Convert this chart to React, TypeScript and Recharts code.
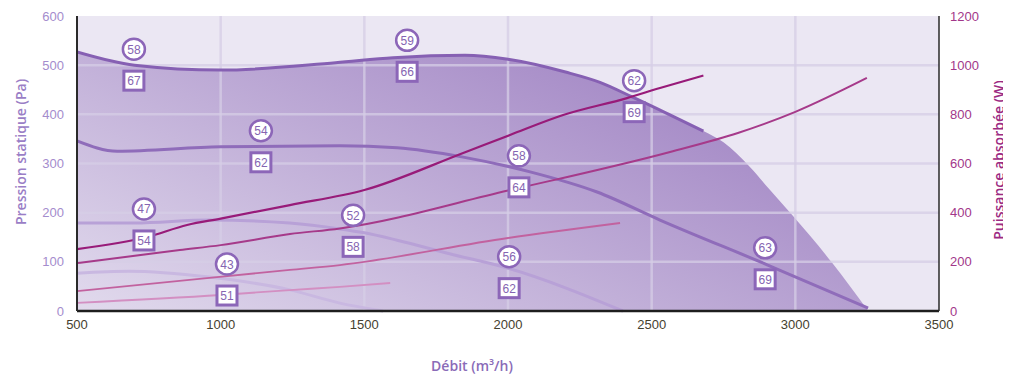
import React from 'react'
import {
  ComposedChart,
  Line,
  Area,
  Scatter,
  XAxis,
  YAxis,
  CartesianGrid,
  ReferenceLine,
} from 'recharts'

// axes
const X_TICKS = [500, 1000, 1500, 2000, 2500, 3000, 3500]
const P_TICKS = [0, 100, 200, 300, 400, 500, 600]
const W_TICKS = [0, 200, 400, 600, 800, 1000, 1200]
const GRID_X = [1000, 1500, 2000, 2500, 3000]
const GRID_P = [100, 200, 300, 400, 500]

// zone de fonctionnement (enveloppe)
const envX = [500, 700, 1000, 1400, 1600, 1850, 2000, 2200, 2320, 2430, 2560, 2680, 2750, 2842, 2912, 2992, 3128, 3250]
const envP = [527, 500, 490, 505, 515, 520, 512, 486, 465, 436, 400, 366, 343, 293, 246, 193, 98, 3]

// pression statique (Pa), vitesses 1 a 4
const p1X = [500, 700, 1000, 1400, 1600, 1850, 2000, 2200, 2320, 2430, 2560, 2680]
const p1Y = [527, 500, 490, 505, 515, 520, 512, 486, 465, 436, 400, 366]
const p2X = [500, 640, 1000, 1415, 1614, 1844, 2077, 2310, 2529, 2902, 3253]
const p2Y = [346, 325, 334, 336, 332, 313, 283, 242, 185, 94, 6]
const p3X = [500, 700, 960, 1240, 1415, 1500, 1614, 1800, 2000, 2400]
const p3Y = [179, 179, 185, 179, 167, 159, 144, 116, 87, 0]
const p4X = [500, 680, 960, 1241, 1415, 1565]
const p4Y = [77, 81, 69, 43, 16, 0]

// puissance absorbee (W)
const w1X = [500, 744, 883, 1000, 1241, 1500, 1844, 2007, 2192, 2414, 2529, 2680]
const w1Y = [252, 301, 350, 376, 431, 492, 643, 716, 797, 866, 907, 958]
const w2X = [500, 858, 1000, 1241, 1415, 2000, 2564, 2800, 3000, 3249]
const w2Y = [195, 248, 268, 313, 336, 490, 647, 724, 810, 948]
const w3X = [500, 987, 1241, 1415, 2000, 2390]
const w3Y = [81, 138, 167, 187, 297, 358]
const w4X = [500, 1000, 1241, 1415, 1590]
const w4Y = [33, 65, 85, 98, 114]

// niveaux sonores: rond et carre
const lblX = [698, 1649, 2439, 1140, 2038, 2895, 733, 1461, 2004, 1022]
const lblY = [500, 518, 436, 334, 283, 96, 175, 162, 78, 63]
const lblRound = [58, 59, 62, 54, 58, 63, 47, 52, 56, 43]
const lblSquare = [67, 66, 69, 62, 64, 69, 54, 58, 62, 51]

const pts = (xs: number[], ys: number[]) => xs.map((x, i) => ({ x, y: ys[i] }))

const labels = lblX.map((x, i) => ({ x, y: lblY[i], round: lblRound[i], square: lblSquare[i] }))

const LABEL_STROKE = '#8c66b8'
const LABEL_TEXT = '#8565b2'

function LevelMark(props: any) {
  const { cx, cy, payload } = props
  if (cx == null || cy == null) return null
  return (
    <g>
      <ellipse cx={cx} cy={cy - 16} rx={11} ry={10.5} fill="#fff" stroke={LABEL_STROKE} strokeWidth={2.5} />
      <text x={cx} y={cy - 16} dy={4.5} textAnchor="middle" fontSize={12} fontFamily="Liberation Sans" fill={LABEL_TEXT}>
        {payload.round}
      </text>
      <rect x={cx - 10} y={cy + 6} width={20} height={19} fill="#fff" stroke={LABEL_STROKE} strokeWidth={3} />
      <text x={cx} y={cy + 15.5} dy={4.5} textAnchor="middle" fontSize={12} fontFamily="Liberation Sans" fill={LABEL_TEXT}>
        {payload.square}
      </text>
    </g>
  )
}

const vTitle = (color: string): React.CSSProperties => ({
  position: 'absolute',
  writingMode: 'vertical-rl',
  transform: 'translate(-50%, -50%) rotate(180deg)',
  whiteSpace: 'nowrap',
  lineHeight: 1,
  fontFamily: 'Open Sans',
  fontWeight: 600,
  fontSize: 14,
  color,
})

export default function App() {
  return (
    <div style={{ position: 'relative', width: 1003, height: 368 }}>
      <ComposedChart width={1003} height={368} margin={{ top: 8, right: 0, bottom: 0, left: 0 }}>
        <defs>
          <linearGradient id="zone" x1="0" y1="1" x2="1" y2="0.3">
            <stop offset="0%" stopColor="#8a66b5" stopOpacity={0.1} />
            <stop offset="55%" stopColor="#8a66b5" stopOpacity={0.48} />
            <stop offset="100%" stopColor="#8a66b5" stopOpacity={0.78} />
          </linearGradient>
        </defs>
        <CartesianGrid fill="#ebe7f3" stroke="none" />
        <XAxis
          xAxisId="b"
          dataKey="x"
          type="number"
          domain={[500, 3500]}
          ticks={X_TICKS}
          height={65}
          tickSize={0}
          tickMargin={9}
          axisLine={{ stroke: '#1e1e1e', strokeWidth: 2.5 }}
          tick={{ fontSize: 13, fill: '#45412f', fontFamily: 'Liberation Sans' }}
          allowDataOverflow
        />
        <XAxis xAxisId="t" orientation="top" type="number" domain={[500, 3500]} height={0} tick={false} tickLine={false} axisLine={{ stroke: '#3a3a3a', strokeWidth: 1.5 }} />
        <YAxis
          yAxisId="p"
          type="number"
          domain={[0, 600]}
          ticks={P_TICKS}
          width={69}
          tickSize={0}
          tickMargin={13}
          axisLine={{ stroke: '#2a2a2a', strokeWidth: 2 }}
          tick={{ fontSize: 13, fill: '#a48ccd', fontFamily: 'Liberation Sans' }}
        />
        <YAxis
          yAxisId="w"
          orientation="right"
          type="number"
          domain={[0, 1200]}
          ticks={W_TICKS}
          width={72}
          tickSize={0}
          tickMargin={11}
          axisLine={{ stroke: '#2a2a2a', strokeWidth: 1.5 }}
          tick={{ fontSize: 13, fill: '#a2378a', fontFamily: 'Liberation Sans', textAnchor: 'start' }}
        />

        <Area
          xAxisId="b"
          yAxisId="p"
          data={pts(envX, envP)}
          dataKey="y"
          type="monotone"
          stroke="none"
          fill="url(#zone)"
          fillOpacity={1}
          isAnimationActive={false}
        />

        {GRID_X.map((v) => (
          <ReferenceLine key={'gx' + v} xAxisId="b" yAxisId="p" x={v} stroke="#d6cde6" strokeOpacity={0.75} strokeWidth={2.5} />
        ))}
        {GRID_P.map((v) => (
          <ReferenceLine key={'gp' + v} xAxisId="b" yAxisId="p" y={v} stroke="#d6cde6" strokeOpacity={0.75} strokeWidth={2.5} />
        ))}

        <Line xAxisId="b" yAxisId="p" data={pts(p4X, p4Y)} dataKey="y" type="monotone" stroke="#c9b8e1" strokeWidth={3} dot={false} isAnimationActive={false} />
        <Line xAxisId="b" yAxisId="p" data={pts(p3X, p3Y)} dataKey="y" type="monotone" stroke="#b8a1d7" strokeWidth={3} dot={false} isAnimationActive={false} />
        <Line xAxisId="b" yAxisId="p" data={pts(p2X, p2Y)} dataKey="y" type="monotone" stroke="#8f6cba" strokeWidth={3} dot={false} isAnimationActive={false} />
        <Line xAxisId="b" yAxisId="p" data={pts(p1X, p1Y)} dataKey="y" type="monotone" stroke="#8660b3" strokeWidth={3} dot={false} isAnimationActive={false} />

        <Line xAxisId="b" yAxisId="w" data={pts(w4X, w4Y)} dataKey="y" type="monotone" stroke="#d38fc2" strokeWidth={1.8} dot={false} isAnimationActive={false} />
        <Line xAxisId="b" yAxisId="w" data={pts(w3X, w3Y)} dataKey="y" type="monotone" stroke="#c2629f" strokeWidth={1.8} dot={false} isAnimationActive={false} />
        <Line xAxisId="b" yAxisId="w" data={pts(w2X, w2Y)} dataKey="y" type="monotone" stroke="#a63a8a" strokeWidth={2} dot={false} isAnimationActive={false} />
        <Line xAxisId="b" yAxisId="w" data={pts(w1X, w1Y)} dataKey="y" type="monotone" stroke="#981b79" strokeWidth={2.2} dot={false} isAnimationActive={false} />

        <Scatter xAxisId="b" yAxisId="p" data={labels} dataKey="y" shape={<LevelMark />} isAnimationActive={false} />
      </ComposedChart>

      <div style={{ ...vTitle('#9a7ec6'), left: 13, top: 144 }}>Pression statique (Pa)</div>
      <div style={{ ...vTitle('#9c2a82'), left: 991, top: 152 }}>Puissance absorbée (W)</div>
      <div
        style={{
          position: 'absolute',
          left: 464,
          top: 357,
          transform: 'translate(-50%, -50%)',
          whiteSpace: 'nowrap',
          fontFamily: 'Open Sans',
          fontWeight: 600,
          fontSize: 14,
          color: '#8a6bb8',
        }}
      >
        Débit (m³/h)
      </div>
    </div>
  )
}
